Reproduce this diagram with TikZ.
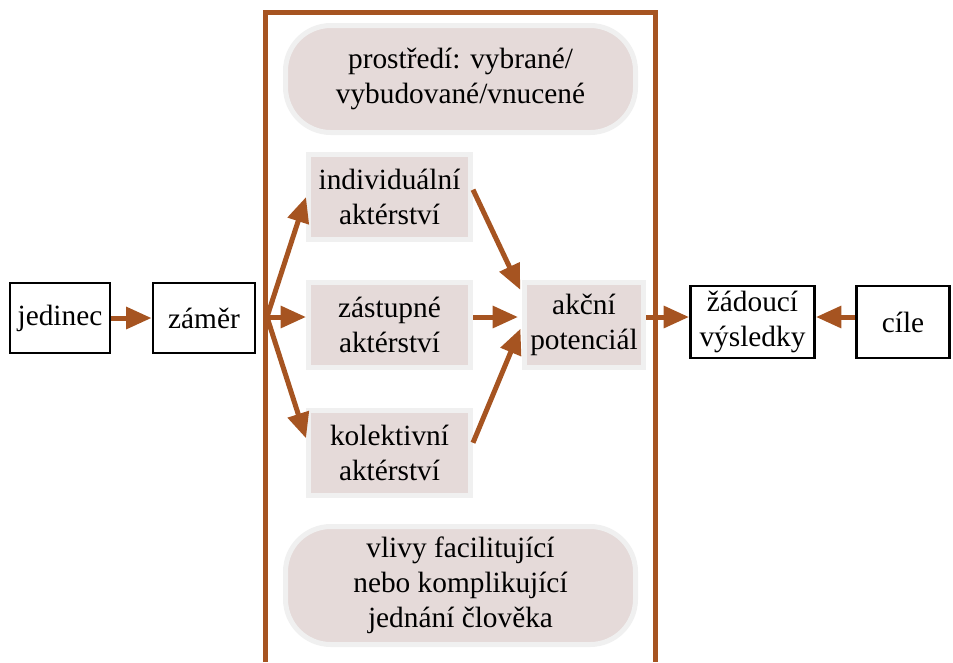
\documentclass[tikz,border=0pt]{standalone}
\usepackage{fontspec}
\setmainfont{Liberation Serif}
\usetikzlibrary{arrows.meta}
\definecolor{brn}{RGB}{166,84,33}
\definecolor{pinkfill}{RGB}{229,218,217}
\definecolor{lightedge}{RGB}{240,240,240}
\begin{document}
\begin{tikzpicture}[x=0.75pt,y=-0.75pt,
 every node/.style={font=\fontsize{22}{26.25}\selectfont, align=center, inner sep=0pt},
 plainbox/.style={draw=black, line width=2.2pt, fill=white},
 pinkbox/.style={draw=lightedge, line width=3.75pt, fill=pinkfill, minimum width=121.5pt, minimum height=63.75pt},
 pill/.style={draw=lightedge, line width=3.75pt, fill=pinkfill, rounded corners=34pt, minimum width=262.5pt},
 conn/.style={draw=brn, line width=3.75pt, -{Triangle[length=19pt,width=16pt]}},
 frame/.style={draw=brn, line width=3.75pt}
]
\useasboundingbox (0,0) rectangle (953,662);
\draw[frame] (265.5,662) -- (265.5,12) -- (655,12) -- (655,662);

\node[plainbox, minimum width=75pt, minimum height=52.5pt] (jed) at (60,318) {jedinec};
\node[plainbox, minimum width=76.5pt, minimum height=52.5pt] (zam) at (204,318) {záměr};
\node[pill, minimum height=80.25pt] (env) at (460.5,79) {prostředí: vybrané/\\vybudované/vnucené};
\node[pill, minimum height=88.5pt] (vliv) at (460.5,585.5) {vlivy facilitující\\nebo komplikující\\jednání člověka};
\node[pinkbox] (ind) at (389.5,197) {individuální\\aktérství};
\node[pinkbox] (zas) at (389.5,325) {zástupné\\aktérství};
\node[pinkbox] (kol) at (389.5,453) {kolektivní\\aktérství};
\node[pinkbox, minimum width=89.25pt] (ak) at (584,325) {akční\\potenciál};
\node[plainbox, minimum width=93pt, minimum height=54pt] (zad) at (752.5,322) {žádoucí\\výsledky};
\node[plainbox, minimum width=69.75pt, minimum height=54pt] (cil) at (903,322) {cíle};

\coordinate (fork) at (267,317);

\draw[conn] (jed.east) -- (zam.west);
\draw[conn] (fork) -- (ind.west);
\draw[conn] (fork) -- (fork -| zas.west);
\draw[conn] (fork) -- (kol.170);
\draw[conn, shorten >=3pt] (ind.5) -- (ak.153);
\draw[conn, shorten >=3pt] (zas.east |- fork) -- (ak.west |- fork);
\draw[conn, shorten >=3pt] (kol.7) -- (ak.west);
\draw[conn] (ak.east |- fork) -- (zad.west |- fork);
\draw[conn] (cil.west |- fork) -- (zad.east |- fork);
\end{tikzpicture}
\end{document}
